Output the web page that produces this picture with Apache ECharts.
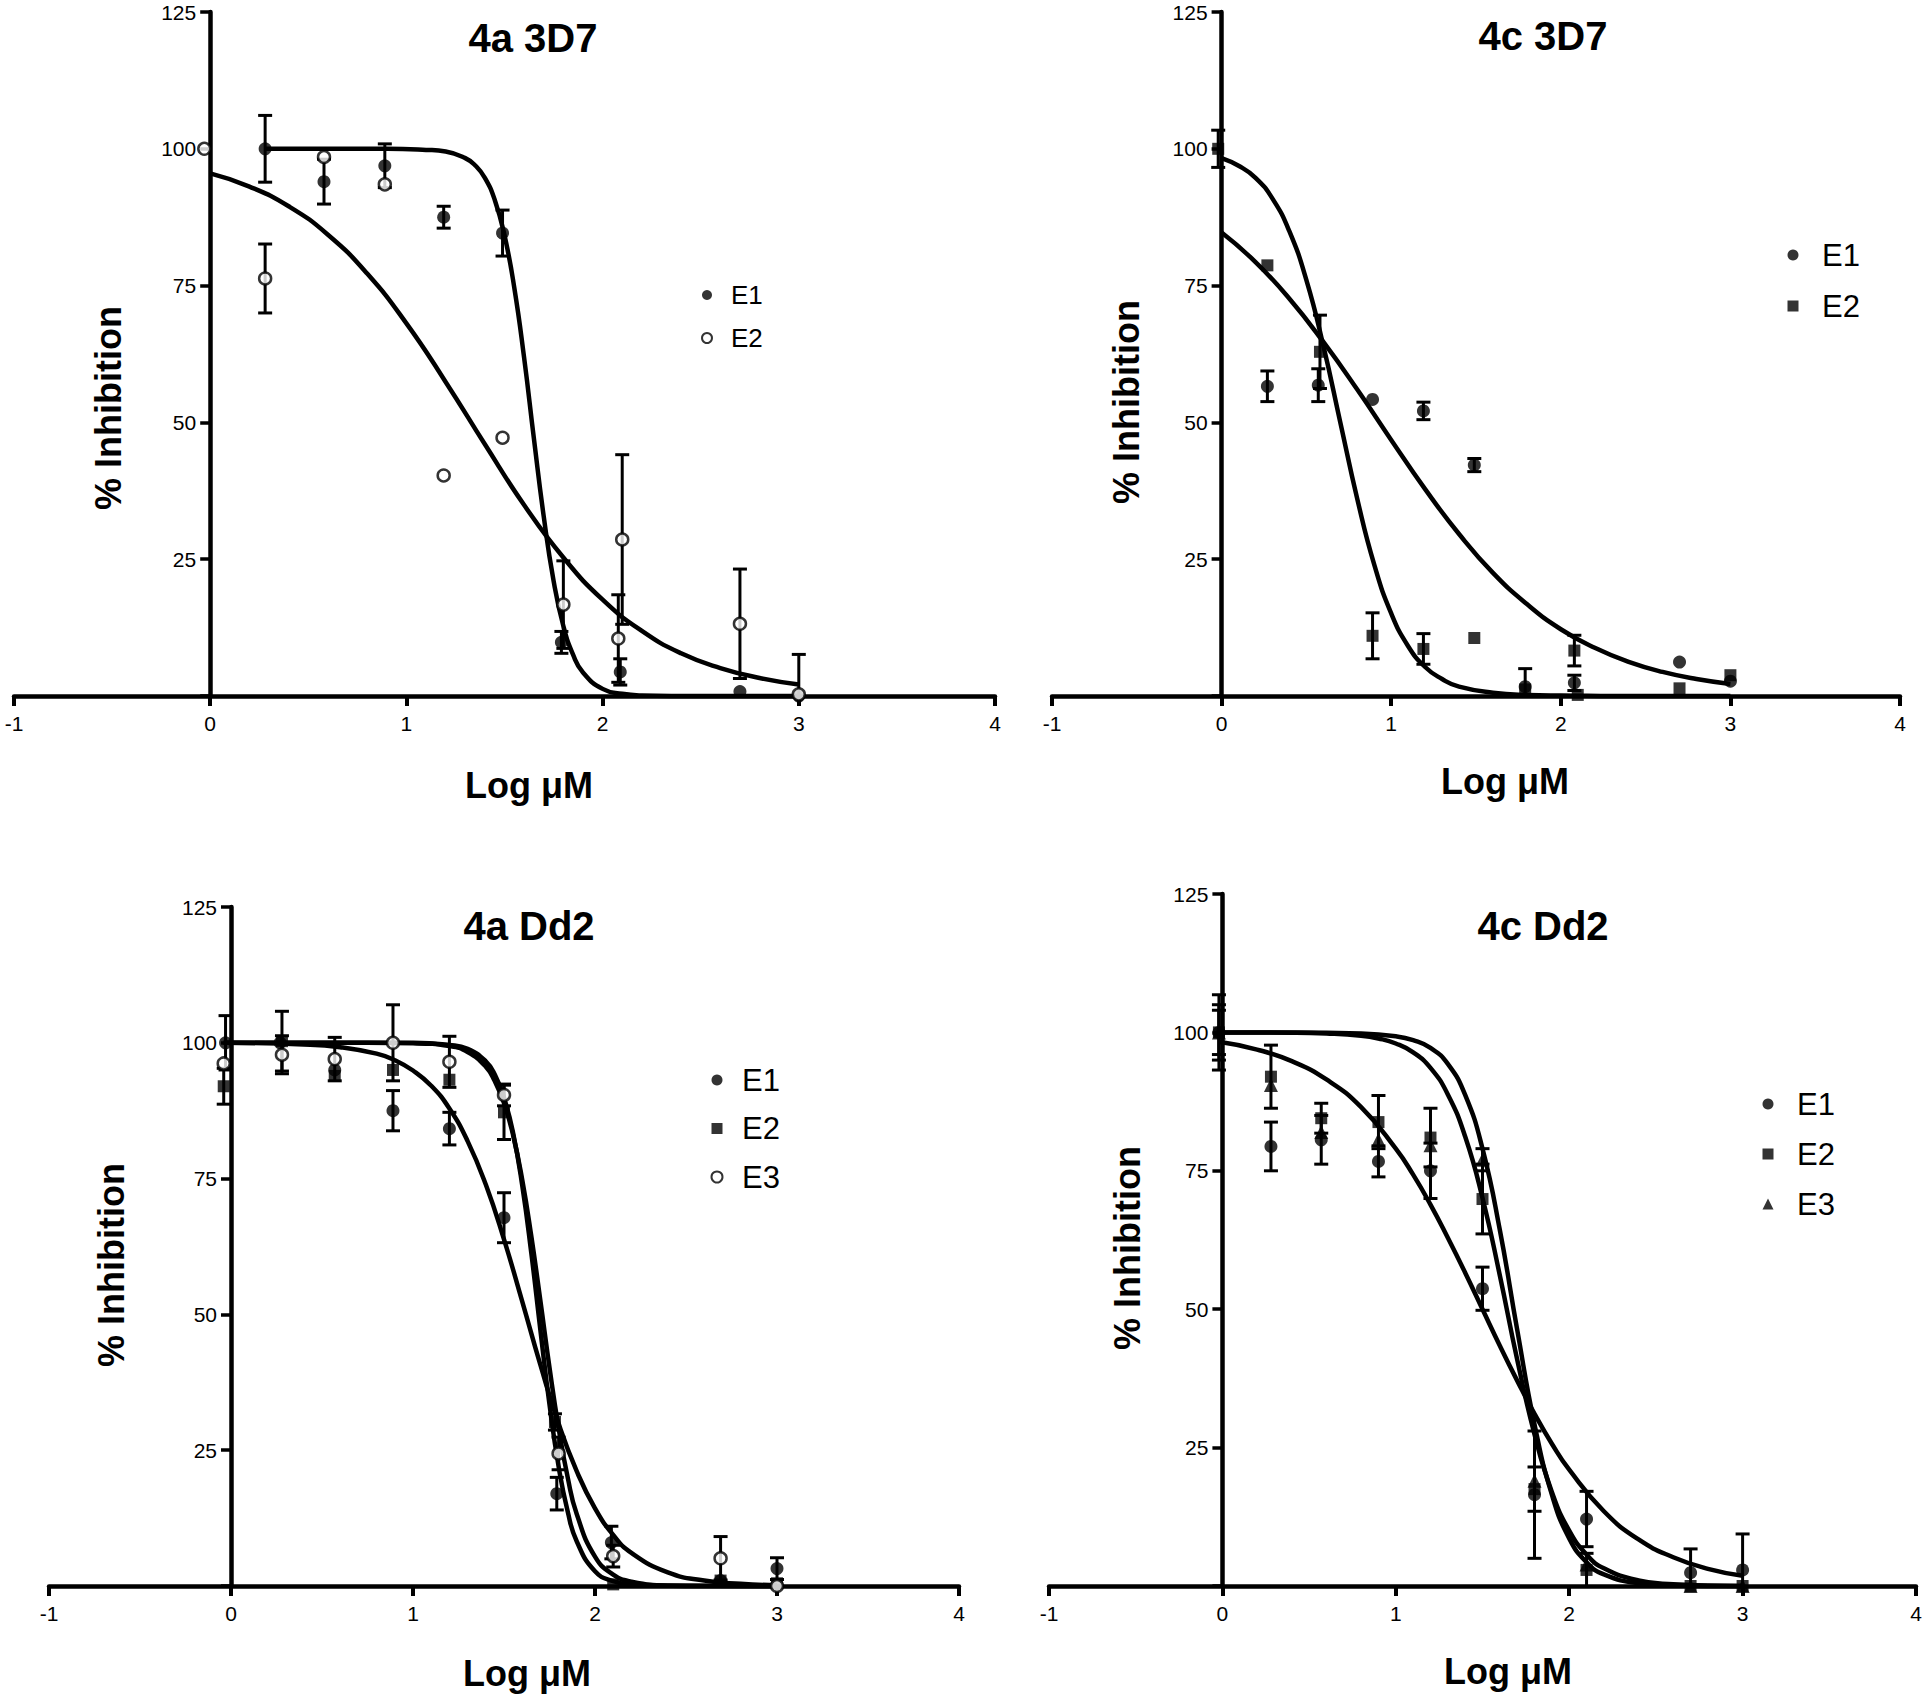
<!DOCTYPE html>
<html>
<head>
<meta charset="utf-8">
<script src="https://cdn.jsdelivr.net/npm/echarts@6/dist/echarts.min.js"></script>
<style>
html,body{margin:0;padding:0;background:#fff;}
#chart{width:1929px;height:1703px;}
</style>
</head>
<body>
<div id="chart"></div>
<script>
// ---------- text & ticks ----------
const panelTitles = ['4a 3D7', '4c 3D7', '4a Dd2', '4c Dd2'];
const xAxisTitle = 'Log μM';
const yAxisTitle = '% Inhibition';
const xTickMin = -1, xTickMax = 4, xTickStep = 1;
const yTickMin = 0, yTickMax = 125, yTickStep = 25;

// ---------- data points: [log concentration, % inhibition, error] ----------
// Panel 1: 4a 3D7
const a3d7_E1 = [[0.28,100,6.1],[0.58,94,4.1],[0.89,96.9,4],[1.19,87.5,2],[1.49,84.6,4.2],[1.79,9.8,2],[2.09,4.4,2.4],[2.70,0.8,0],[3.00,0,0]];
const a3d7_E2 = [[-0.03,100,0],[0.28,76.3,6.3],[0.58,98.5,0],[0.89,93.5,0],[1.19,40.3,0],[1.49,47.2,0],[1.80,16.7,8],[2.08,10.5,8],[2.10,28.6,15.5],[2.70,13.2,10],[3.00,0.3,7.3]];
// Panel 2: 4c 3D7
const c3d7_E1 = [[0.27,56.6,2.8],[0.57,56.8,3],[0.89,54.2,0],[1.19,52.1,1.6],[1.49,42.2,1.2],[1.79,1.7,3.3],[2.08,2.4,1.4],[2.70,6.2,0],[3.00,2.7,0]];
const c3d7_E2 = [[-0.02,100,3.4],[0.27,78.7,0],[0.58,62.9,6.7],[0.89,11,4.2],[1.19,8.6,2.8],[1.49,10.6,0],[1.79,1.2,0],[2.08,8.3,2.8],[2.10,0.2,0],[2.70,1.4,0],[3.00,3.8,0]];
// Panel 3: 4a Dd2
const aDd2_E1 = [[-0.03,100,5],[0.27,100,0],[0.57,95,0],[0.89,87.5,3.7],[1.2,84.2,3],[1.5,67.8,4.6],[1.79,17,3],[2.09,8,3],[2.69,1,0],[3.0,3.2,2]];
const aDd2_E2 = [[-0.04,92,3.3],[0.28,100.3,5.5],[0.57,93.9,0],[0.89,95,0],[1.2,93.2,0],[1.5,87.2,5],[1.78,30.2,1.5],[2.1,0.3,0],[2.69,1,0],[3.0,0.5,0]];
const aDd2_E3 = [[-0.04,96.2,0],[0.28,97.8,3.5],[0.57,97,4],[0.89,100,7],[1.2,96.5,4.7],[1.5,90.4,2],[1.8,24.4,3],[2.1,5.5,2],[2.69,5.1,4],[3.0,0,0]];
// Panel 4: 4c Dd2
const cDd2_E1 = [[-0.02,100,6.8],[0.28,79.4,4.4],[0.57,80.6,4.4],[0.9,76.7,2.8],[1.2,75,5],[1.5,53.7,3.9],[1.8,16.5,11.5],[2.1,12.1,5],[2.7,2.4,4.3],[3.0,2.9,6.5]];
const cDd2_E2 = [[-0.02,100,5],[0.28,92,5.7],[0.57,84.5,2.7],[0.9,83.8,4.8],[1.2,81,5.3],[1.5,69.9,6.3],[1.8,17.5,4],[2.1,2.9,3],[2.7,0,0],[3.0,0,0]];
const cDd2_E3 = [[-0.02,100,4],[0.28,90.5,0],[0.57,82,0],[0.9,80.6,0],[1.2,79.6,0],[1.5,77,2],[1.8,19,0],[2.1,3.9,0],[2.7,0,0],[3.0,0,0]];

// ---------- fitted curves: [log concentration, % inhibition] ----------
const a3d7_fitE1 = [[0.28,100],[0.6,100],[0.9,100],[1.1,99.8],[1.2,99.5],[1.3,98.3],[1.35,97],[1.4,94.7],[1.45,90.7],[1.5,84.2],[1.55,74.6],[1.6,61.8],[1.65,47],[1.7,32.8],[1.75,21.1],[1.8,12.8],[1.85,7.5],[1.9,4.3],[2.0,1.3],[2.1,0.4],[2.2,0.1],[2.5,0],[3.0,0]];
const a3d7_fitE2 = [[0,95.5],[0.2,93.1],[0.4,89.5],[0.6,84.3],[0.8,77.2],[1.0,68.1],[1.2,57.4],[1.4,46],[1.6,34.9],[1.8,25.3],[2.0,17.6],[2.2,11.9],[2.4,7.8],[2.6,5.1],[2.8,3.3],[3.0,2.1]];
const c3d7_fitA = [[0,98.3],[0.1,96.9],[0.2,94.7],[0.3,90.9],[0.4,84.9],[0.5,76],[0.6,64],[0.7,50],[0.8,36],[0.9,24],[1.0,15.1],[1.1,9.1],[1.2,5.3],[1.3,3.1],[1.4,1.7],[1.6,0.6],[1.8,0.2],[2.0,0.1],[2.5,0],[3.0,0]];
const c3d7_fitB = [[0,84.7],[0.2,79.3],[0.4,72.6],[0.6,64.7],[0.8,56],[1.0,46.8],[1.2,37.8],[1.4,29.6],[1.6,22.5],[1.8,16.8],[2.0,12.2],[2.2,8.8],[2.4,6.25],[2.6,4.4],[2.8,3.1],[3.0,2.2]];
const aDd2_fitE1 = [[-0.04,100],[0.4,99.7],[0.6,99.2],[0.8,98],[0.9,96.8],[1.0,94.9],[1.1,92.1],[1.2,87.9],[1.3,81.9],[1.4,73.9],[1.5,63.8],[1.6,52.4],[1.7,40.7],[1.8,29.9],[1.9,21.1],[2.0,14.3],[2.1,9.4],[2.2,6.1],[2.4,2.5],[2.6,1],[2.8,0.4],[3.0,0.15]];
const aDd2_fitE2 = [[-0.04,100],[0.5,100],[1.0,100],[1.2,99.6],[1.3,98.9],[1.4,96.6],[1.45,94.1],[1.5,89.9],[1.55,83.4],[1.6,73.8],[1.65,61.3],[1.7,47.1],[1.75,33.4],[1.8,22],[1.85,13.7],[1.9,8.2],[2.0,2.7],[2.1,0.9],[2.2,0.3],[2.5,0],[3.0,0]];
const aDd2_fitE3 = [[-0.04,100],[0.5,100],[1.0,99.9],[1.2,99.4],[1.3,98.3],[1.4,95.6],[1.45,92.9],[1.5,88.9],[1.55,83],[1.6,74.8],[1.65,64.4],[1.7,52.5],[1.75,40.2],[1.8,29.1],[1.85,20],[1.9,13.2],[2.0,5.4],[2.1,2.1],[2.2,0.8],[2.4,0.1],[3.0,0]];
const cDd2_fitE1 = [[-0.02,98.3],[0.2,96.9],[0.4,94.8],[0.6,91.5],[0.8,86.5],[1.0,79],[1.1,74.3],[1.2,68.9],[1.3,62.9],[1.4,56.6],[1.5,50],[1.6,43.4],[1.7,37.1],[1.8,31.1],[1.9,25.7],[2.0,21],[2.2,13.5],[2.4,8.4],[2.6,5.2],[2.8,3.1],[3.0,1.85]];
const cDd2_fitE2 = [[-0.02,100],[0.4,99.95],[0.6,99.8],[0.8,99.4],[0.9,98.9],[1.0,98],[1.1,96.4],[1.2,93.6],[1.3,88.8],[1.4,81.2],[1.5,70.1],[1.6,56.1],[1.7,40.9],[1.8,27.4],[1.9,17],[2.0,10],[2.1,5.7],[2.2,3.2],[2.4,1],[2.6,0.3],[2.8,0.1],[3.0,0]];
const cDd2_fitE3 = [[-0.02,100],[0.4,100],[0.8,99.8],[1.0,99.3],[1.1,98.6],[1.2,97.2],[1.3,94.3],[1.4,88.7],[1.5,79],[1.6,64.3],[1.7,46.3],[1.8,29.2],[1.9,16.5],[2.0,8.6],[2.1,4.3],[2.2,2.1],[2.4,0.5],[2.6,0.1],[3.0,0]];

// ---------- panel composition ----------
const panels = [
  { sets: [ {name:'E1', pts:a3d7_E1, mark:'dot'}, {name:'E2', pts:a3d7_E2, mark:'ring'} ], fits: [a3d7_fitE1, a3d7_fitE2] },
  { sets: [ {name:'E1', pts:c3d7_E1, mark:'dot'}, {name:'E2', pts:c3d7_E2, mark:'square'} ], fits: [c3d7_fitA, c3d7_fitB] },
  { sets: [ {name:'E1', pts:aDd2_E1, mark:'dot'}, {name:'E2', pts:aDd2_E2, mark:'square'}, {name:'E3', pts:aDd2_E3, mark:'ring'} ], fits: [aDd2_fitE1, aDd2_fitE2, aDd2_fitE3] },
  { sets: [ {name:'E1', pts:cDd2_E1, mark:'dot'}, {name:'E2', pts:cDd2_E2, mark:'square'}, {name:'E3', pts:cDd2_E3, mark:'tri'} ], fits: [cDd2_fitE1, cDd2_fitE2, cDd2_fitE3] }
];

// ---------- layout (pixels) ----------
const layout = [
  { grid:{left:14, top:12, width:981, height:684},  title:[533,38],  xName:[529,785],  yName:[108,408],  leg:{x:706, y:295, font:26, gap:43, off:24, size:10} },
  { grid:{left:1052, top:12, width:848, height:684}, title:[1543,36], xName:[1505,781], yName:[1126,402], leg:{x:1793, y:255, font:31, gap:51, off:29, size:11} },
  { grid:{left:49, top:907, width:910, height:679},  title:[529,926],  xName:[527,1673], yName:[111,1265], leg:{x:716, y:1080, font:31, gap:48.5, off:25, size:11} },
  { grid:{left:1049, top:894, width:867, height:692}, title:[1543,926], xName:[1508,1671], yName:[1127,1248], leg:{x:1768, y:1104, font:31, gap:50, off:29, size:11} }
];

const FONT = '"Liberation Sans", Arial, Helvetica, sans-serif';
const BLACK = '#000';

const markStyle = {
  dot:    { symbol:'circle',   size:13, item:{color:BLACK, borderWidth:0} },
  ring:   { symbol:'circle',   size:12, item:{color:'#fff', borderColor:BLACK, borderWidth:2.5} },
  square: { symbol:'rect',     size:12, item:{color:BLACK, borderWidth:0} },
  tri:    { symbol:'triangle', size:14, item:{color:BLACK, borderWidth:0} }
};

function renderErrorBar(params, api) {
  const x = api.value(0), y = api.value(1), e = api.value(2);
  if (!(e > 0)) return null;
  const top = api.coord([x, y + e]);
  const lowVal = y - e;
  const bot = api.coord([x, Math.max(0, lowVal)]);
  const hw = 7;
  const style = { stroke: BLACK, lineWidth: 3, fill: null };
  const children = [
    { type:'line', shape:{x1:top[0], y1:top[1], x2:bot[0], y2:bot[1]}, style },
    { type:'line', shape:{x1:top[0]-hw, y1:top[1], x2:top[0]+hw, y2:top[1]}, style }
  ];
  if (lowVal > 0) children.push({ type:'line', shape:{x1:bot[0]-hw, y1:bot[1], x2:bot[0]+hw, y2:bot[1]}, style });
  return { type:'group', children };
}

const grid = [], xAxis = [], yAxis = [], series = [], legend = [], graphic = [];

panels.forEach((p, i) => {
  const L = layout[i];
  grid.push(Object.assign({ containLabel:false, outerBoundsMode:'none' }, L.grid));
  // pixel distance from the grid's left edge to x = 0, so the y axis sits on x = 0
  const zeroShift = L.grid.width * (0 - xTickMin) / (xTickMax - xTickMin);
  xAxis.push({
    type:'value', gridIndex:i, min:xTickMin, max:xTickMax, interval:xTickStep,
    axisLine:{ show:true, onZero:false, lineStyle:{ color:BLACK, width:4.5 } },
    axisTick:{ show:true, length:10, lineStyle:{ color:BLACK, width:4 } },
    axisLabel:{ color:BLACK, fontSize:21, fontFamily:FONT, margin:17 },
    splitLine:{ show:false }
  });
  yAxis.push({
    type:'value', gridIndex:i, position:'left', offset:-zeroShift, min:yTickMin, max:yTickMax, interval:yTickStep,
    axisLine:{ show:true, onZero:false, lineStyle:{ color:BLACK, width:4.5 } },
    axisTick:{ show:true, length:10, lineStyle:{ color:BLACK, width:3.5 } },
    axisLabel:{ color:BLACK, fontSize:21, fontFamily:FONT, margin:14, formatter: v => (v === 0 ? '' : String(v)) },
    splitLine:{ show:false }
  });

  p.fits.forEach(f => {
    series.push({
      type:'line', name:'fit', xAxisIndex:i, yAxisIndex:i, data:f,
      showSymbol:false, symbol:'none', smooth:0.5,
      lineStyle:{ color:BLACK, width:4.5 }, z:3, silent:true, clip:false
    });
  });

  p.sets.forEach(s => {
    series.push({
      type:'custom', name:s.name + ' error', xAxisIndex:i, yAxisIndex:i,
      data:s.pts, renderItem:renderErrorBar, encode:{ x:0, y:1 }, z:4, silent:true, clip:false
    });
  });
  p.sets.forEach(s => {
    const m = markStyle[s.mark];
    series.push({
      type:'scatter', name:s.name, xAxisIndex:i, yAxisIndex:i,
      data:s.pts.map(d => [d[0], d[1]]),
      symbol:m.symbol, symbolSize:m.size, itemStyle:m.item, z:5, silent:true, clip:false
    });
  });

  const lg = L.leg, lh = lg.font + 4;
  legend.push({
    orient:'vertical', left: lg.x - lg.size / 2, top: lg.y - lh / 2, padding:0,
    itemWidth: lg.size, itemHeight: lg.size, itemGap: lg.gap - lh,
    selectedMode:false,
    textStyle:{ color:BLACK, fontSize:lg.font, fontFamily:FONT, lineHeight:lh, padding:[0,0,0,lg.off - lg.size/2 - 5] },
    data: p.sets.map(s => {
      const m = markStyle[s.mark];
      return { name:s.name, icon:m.symbol, itemStyle:Object.assign({}, m.item, s.mark === 'ring' ? {borderWidth:2} : {}) };
    })
  });

  graphic.push({
    type:'text', x:L.title[0], y:L.title[1], silent:true,
    style:{ text:panelTitles[i], fill:BLACK, font:'bold 40px ' + FONT, textAlign:'center', textVerticalAlign:'middle', verticalAlign:'middle' }
  });
  graphic.push({
    type:'text', x:L.xName[0], y:L.xName[1], silent:true,
    style:{ text:xAxisTitle, fill:BLACK, font:'bold 36px ' + FONT, textAlign:'center', textVerticalAlign:'middle', verticalAlign:'middle' }
  });
  graphic.push({
    type:'text', x:L.yName[0], y:L.yName[1], rotation:Math.PI / 2, silent:true,
    style:{ text:yAxisTitle, fill:BLACK, font:'bold 36px ' + FONT, textAlign:'center', textVerticalAlign:'middle', verticalAlign:'middle' }
  });
});

const chart = echarts.init(document.getElementById('chart'), null, { renderer:'svg', width:1929, height:1703 });
chart.setOption({
  backgroundColor:'#fff',
  animation:false,
  textStyle:{ fontFamily:FONT },
  grid, xAxis, yAxis, series, legend, graphic
});
</script>
</body>
</html>
